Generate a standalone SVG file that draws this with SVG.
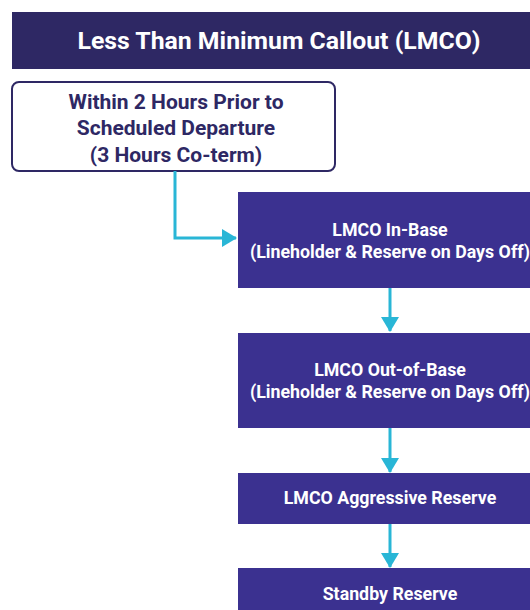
<svg xmlns="http://www.w3.org/2000/svg" width="530" height="610" viewBox="0 0 530 610">
<defs>
<style>
.t{font-family:Roboto,"Liberation Sans",sans-serif;font-weight:bold;text-anchor:middle}
.w{fill:#ffffff;font-size:17.8px}
.c{fill:none;stroke:#29b6d6;stroke-width:3}
.pb{fill:#3b3190}
</style>
<marker id="ah" viewBox="0 0 15 18" refX="14" refY="9" markerWidth="5" markerHeight="6" orient="auto" markerUnits="strokeWidth">
<path d="M0,0 L15,9 L0,18 z" fill="#29b6d6"/>
</marker>
</defs>
<rect width="530" height="610" fill="#ffffff"/>
<g id="title">
<rect x="12" y="12" width="530" height="57" fill="#2e2864"/>
<text class="t" x="279" y="49" fill="#ffffff" font-size="24.8">Less Than Minimum Callout (LMCO)</text>
</g>
<g id="start">
<rect x="12" y="82" width="323" height="89" rx="7" fill="#ffffff" stroke="#2e2864" stroke-width="2"/>
<text class="t" x="176" y="109" fill="#2e2864" font-size="21">Within 2 Hours Prior to</text>
<text class="t" x="176" y="135" fill="#2e2864" font-size="21">Scheduled Departure</text>
<text class="t" x="176" y="162" fill="#2e2864" font-size="21">(3 Hours Co-term)</text>
</g>
<g id="connectors">
<path class="c" d="M175,171 V238 H236" marker-end="url(#ah)"/>
<path class="c" d="M390,288 V331" marker-end="url(#ah)"/>
<path class="c" d="M390,428 V472" marker-end="url(#ah)"/>
<path class="c" d="M390,524 V567" marker-end="url(#ah)"/>
</g>
<g id="inbase">
<rect class="pb" x="238" y="192" width="300" height="96"/>
<text class="t w" x="390" y="236">LMCO In-Base</text>
<text class="t w" x="390" y="258">(Lineholder &amp; Reserve on Days Off)</text>
</g>
<g id="outbase">
<rect class="pb" x="238" y="333" width="300" height="95"/>
<text class="t w" x="390" y="376">LMCO Out-of-Base</text>
<text class="t w" x="390" y="398">(Lineholder &amp; Reserve on Days Off)</text>
</g>
<g id="aggressive">
<rect class="pb" x="238" y="473" width="300" height="51"/>
<text class="t w" x="390" y="504">LMCO Aggressive Reserve</text>
</g>
<g id="standby">
<rect class="pb" x="238" y="568" width="300" height="50"/>
<text class="t w" x="390" y="600">Standby Reserve</text>
</g>
</svg>
